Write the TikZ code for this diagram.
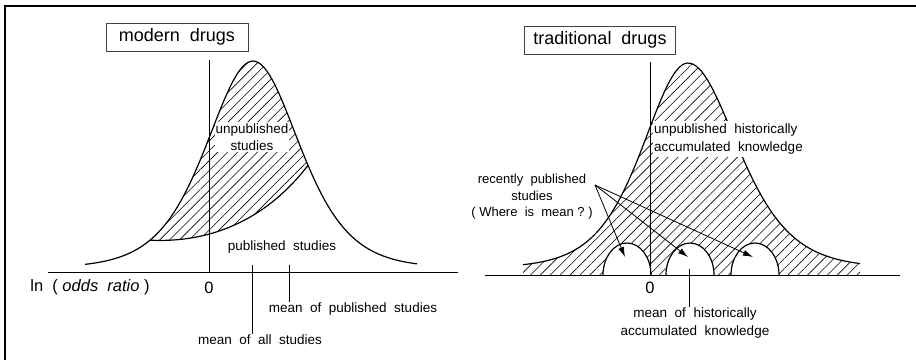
\documentclass[tikz,border=0pt]{standalone}
\usepackage{fontspec}
\setmainfont{Liberation Sans}
\usetikzlibrary{patterns.meta,arrows.meta}

\begin{document}
\begin{tikzpicture}[x=1pt,y=-1pt,
		declare function={bell(\t,\m,\w)=4/(exp((\t-\m)/\w)+exp(-(\t-\m)/\w))^2;
			skew(\t,\m,\l,\r)=bell(\t,\m,ifthenelse(\t<\m,\l,\r));},
		lbl/.style={font=\fontsize{13.5}{17.5}\selectfont,inner sep=1pt,align=center},
		big/.style={font=\fontsize{16.5}{20}\selectfont,inner sep=1pt},
		title/.style={draw=black!75,line width=1pt,font=\fontsize{18}{20}\selectfont,minimum height=28pt,inner sep=0pt},
		hatch/.style={pattern={Lines[angle=45,distance=7pt,line width=0.6pt]}},
		bellcurve/.style={line width=1.2pt,line join=round},
		zero/.style={line width=0.7pt},
		axis/.style={line width=1pt}]
	\useasboundingbox (0,0) rectangle (916,360);
	\draw[line width=2pt] (5,360) -- (5,6) -- (916,6);

	\node[title,minimum width=142pt] (modern) at (177,37) {modern\ \ drugs};
	\coordinate (pubL) at (150,{268-207*skew(150,253,62,62)});
	\coordinate (pubR) at (308,{268-207*skew(308,253,62,62)});
	\fill[hatch] plot[domain=150:308,samples=60] (\x,{268-207*skew(\x,253,62,62)}) .. controls (280,202) and (230,244) .. (pubL) -- cycle;
	\node[lbl,fill=white] (unpub) at (252,137) {unpublished\\studies};
	\draw[bellcurve] plot[domain=85:417,samples=120] (\x,{268-207*skew(\x,253,62,62)});
	\draw[bellcurve] (pubR) .. controls (280,202) and (230,244) .. (pubL);
	\draw[zero] (209,60) -- (209,272);
	\draw[axis] (48,272) -- (458,272);
	\node[lbl] (pub) at (282,247) {published\ \ studies};
	\node[big] (lnor) at (90,287) {ln\ \ (\ \textit{odds\ \ ratio}\ )};
	\node[big] (zeroL) at (209,288) {0};
	\node[lbl] (meanall) at (260,340) {mean\ \ of\ \ all\ \ studies};
	\node[lbl] (meanpub) at (353,309) {mean\ \ of\ \ published\ \ studies};
	\coordinate (tickall) at (252,265);
	\coordinate (tickpub) at (289,265);
	\draw[axis] (tickall) -- (tickall |- meanall.north);
	\draw[axis] (tickpub) -- (tickpub |- meanpub.north);

	\node[title,minimum width=151pt] (trad) at (600,40) {traditional\ \ drugs};
	\fill[hatch] plot[domain=523:860,samples=120] (\x,{268-205*skew(\x,688,60,66)}) -- (860,275) -- (523,275) -- cycle;
	\draw[bellcurve] plot[domain=523:860,samples=120] (\x,{268-205*skew(\x,688,60,66)});
	\foreach \c/\n in {627/h1,690/h2,755/h3}{
		\draw[bellcurve,fill=white] (\c-24,275) arc[start angle=180,end angle=360,x radius=24,y radius=32];
		\coordinate (\n) at (\c-2,257);
	}
	\node[lbl,fill=white,align=left,anchor=west,inner ysep=3pt] (unpubhist) at (653,139) {unpublished\ \ historically\\accumulated\ \ knowledge};
	\draw[zero] (650,62) -- (650,275);
	\draw[axis] (485,275) -- (900,275);
	\node[big] (zeroR) at (650,288) {0};
	\node[lbl] (meanhist) at (695,323) {mean\ \ of\ \ historically\\accumulated\ \ knowledge};
	\coordinate (tickhist) at (689,269);
	\draw[axis] (tickhist) -- (tickhist |- meanhist.north);
	\node[lbl,font=\fontsize{13}{16.5}\selectfont] (recent) at (532,197) {recently\ \ published\\studies\\(\ Where\ \ is\ \ mean\ ?\ )};
	\coordinate (fork) at (595,185);
	\foreach \n in {h1,h2,h3}
		\draw[-{Latex[length=10pt,width=6pt]},line width=0.8pt] (fork) -- (\n);
\end{tikzpicture}
\end{document}
